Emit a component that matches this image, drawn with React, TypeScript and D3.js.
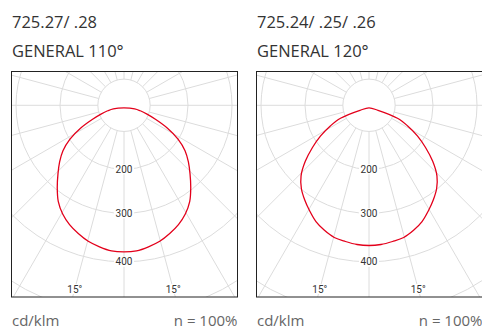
import React from 'react';
import * as d3 from 'd3';

const W = 482;
const H = 329;

// Panel texts
const panelTitlesA = ['725.27/ .28', 'GENERAL 110°'];
const panelTitlesB = ['725.24/ .25/ .26', 'GENERAL 120°'];
const unitText = 'cd/klm';
const ratioText = 'n = 100%';

// Grid
const ringValues = [100, 200, 300, 400, 500];
const ringLabelValues = [200, 300, 400];
const rayAngles = d3.range(0, 360, 15);
const angleLabelText = '15°';
const angleLabelAngles = [-15, 15];

// Light distribution (half curve, degrees from nadir, cd/klm)
const anglesA = [0, 5, 10, 15, 20, 25, 30, 35, 40, 45, 50, 55, 60, 65, 70, 75, 80, 85, 90];
const valuesA = [375, 374, 369, 363, 354, 344, 331, 314, 291, 268, 247, 225, 196, 160, 122, 93, 70, 50, 0];

const anglesB = [0, 5, 10, 15, 20, 25, 30, 35, 40, 45, 50, 55, 60, 65, 70, 75, 80];
const valuesB = [362, 361, 358, 355, 347, 337, 323, 309, 294, 274, 245, 212, 180, 146, 112, 45, 0];

const rScale = d3.scalePow().exponent(1.29).domain([0, 300]).range([0, 108]);

const BOX_W = 226;
const BOX_TOP = 71.5;
const BOX_H = 225.5;
const CENTER_DY = 33.8;
const CURVE_DY = 2.6;

function Panel({ x0, titles, angles, values, id }: { x0: number; titles: string[]; angles: number[]; values: number[]; id: string }) {
  const cx = x0 + BOX_W / 2;
  const cy = BOX_TOP + CENTER_DY;
  const toRad = (deg: number) => (deg * Math.PI) / 180;
  const pt = (deg: number, r: number, oy = 0): [number, number] => [cx + r * Math.sin(toRad(deg)), cy + oy + r * Math.cos(toRad(deg))];

  // full closed curve: mirror half
  const pts: { a: number; v: number }[] = [];
  for (let i = angles.length - 1; i >= 1; i--) pts.push({ a: -angles[i], v: values[i] });
  for (let i = 0; i < angles.length; i++) {
    if (i === angles.length - 1 && values[i] === 0) break;
    pts.push({ a: angles[i], v: values[i] });
  }
  const line = d3
    .line<{ a: number; v: number }>()
    .x((d) => pt(d.a, rScale(d.v), CURVE_DY)[0])
    .y((d) => pt(d.a, rScale(d.v), CURVE_DY)[1])
    .curve(d3.curveCatmullRomClosed.alpha(0.5));

  const rInner = rScale(ringValues[0]);
  const rOuter = rScale(800);

  return (
    <g>
      <text x={x0 + 1} y={28} fontFamily="Open Sans" fontSize={16.5} fill="#333">{titles[0]}</text>
      <text x={x0 + 1} y={56.5} fontFamily="Open Sans" fontSize={16.5} fill="#333">{titles[1]}</text>
      <defs>
        <clipPath id={id}>
          <rect x={x0 + 0.5} y={BOX_TOP} width={BOX_W} height={BOX_H} />
        </clipPath>
      </defs>
      <g clipPath={`url(#${id})`}>
        <rect x={x0 + 0.5} y={BOX_TOP} width={BOX_W} height={BOX_H} fill="#fff" />
        {rayAngles.map((a) => {
          const p1 = pt(a, rInner);
          const p2 = pt(a, rOuter);
          return <line key={a} x1={p1[0]} y1={p1[1]} x2={p2[0]} y2={p2[1]} stroke="#dcdcdc" strokeWidth={1} />;
        })}
        {ringValues.map((v) => (
          <circle key={v} cx={cx} cy={cy} r={rScale(v)} fill="none" stroke="#dcdcdc" strokeWidth={1} />
        ))}
        {ringLabelValues.map((v) => {
          const [x, y] = pt(0, rScale(v));
          return (
            <g key={v}>
              <rect x={x - 10} y={y - 5} width={20} height={10} fill="#fff" />
              <text x={x} y={y} textAnchor="middle" dominantBaseline="central" fontFamily="Liberation Sans Narrow, Roboto" fontSize={10} fill="#333">{v}</text>
            </g>
          );
        })}
        {angleLabelAngles.map((a) => {
          const r = (BOX_TOP + BOX_H - 8 - cy) / Math.cos(toRad(a));
          const [x, y] = pt(a, r);
          return (
            <g key={a}>
              <rect x={x - 8} y={y - 5} width={16} height={10} fill="#fff" />
              <text x={x} y={y} textAnchor="middle" dominantBaseline="central" fontFamily="Liberation Sans Narrow, Roboto" fontSize={10} fill="#333">{angleLabelText}</text>
            </g>
          );
        })}
        <path d={line(pts) || ''} fill="none" stroke="#e3001b" strokeWidth={1.3} />
      </g>
      <rect x={x0 + 0.5} y={BOX_TOP} width={BOX_W} height={BOX_H} fill="none" stroke="#222" strokeWidth={1} />
      <text x={x0 + 1} y={326} fontFamily="Open Sans" fontSize={15} fill="#666">{unitText}</text>
      <text x={x0 + BOX_W + 0.5} y={326} textAnchor="end" fontFamily="Open Sans" fontSize={15} fill="#666">{ratioText}</text>
    </g>
  );
}

export default function App() {
  return (
    <svg width={W} height={H} style={{ position: 'absolute', left: 0, top: 0, background: '#fff' }}>
      <Panel x0={11} titles={panelTitlesA} angles={anglesA} values={valuesA} id="clipA" />
      <Panel x0={256} titles={panelTitlesB} angles={anglesB} values={valuesB} id="clipB" />
    </svg>
  );
}
